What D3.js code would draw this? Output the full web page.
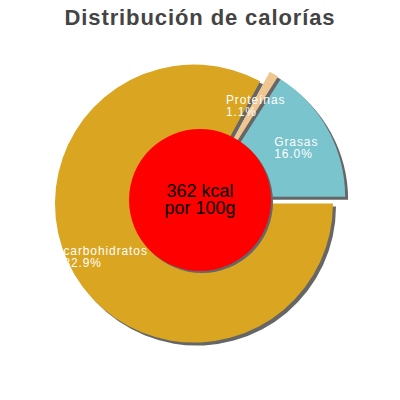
<!DOCTYPE html>
<html><head><meta charset="utf-8">
<script src="https://cdn.jsdelivr.net/npm/d3@7"></script>
<style>body{margin:0;background:#fff}svg{display:block}</style>
</head><body>
<script>
const title = "Distribución de calorías";
const categories = ["carbohidratos", "Proteínas", "Grasas"];
const values = [82.9, 1.1, 16.0];
const colors = ["#daa520", "#efc590", "#79c4cd"];
const centerLines = ["362 kcal", "por 100g"];

const W = 400, H = 400, cx = 200, cy = 200, R = 139, explode = 7, innerR = 71;
const svg = d3.select("body").append("svg").attr("width", W).attr("height", H);

svg.append("text").attr("x", W/2).attr("y", 25).attr("text-anchor", "middle")
  .attr("font-family", "Liberation Sans, Arial, sans-serif").attr("font-weight", "bold")
  .attr("font-size", 22).attr("letter-spacing", 0.9).attr("fill", "#444").text(title);

const data = categories.map((c, i) => ({name: c, value: values[i], color: colors[i]}));
const pie = d3.pie().sort(null).value(d => d.value).startAngle(Math.PI/2).endAngle(Math.PI/2 + 2*Math.PI);
const arcs = pie(data);
const arc = d3.arc().innerRadius(0).outerRadius(R);
const labelArc = d3.arc().innerRadius(0).outerRadius(R * 0.74 * 2);

const off = d => { const a = (d.startAngle + d.endAngle)/2; return [Math.sin(a)*explode, -Math.cos(a)*explode]; };

const g = svg.append("g").attr("transform", `translate(${cx},${cy})`);
// shadows
g.selectAll("path.sh").data(arcs).join("path").attr("class","sh")
  .attr("d", arc).attr("fill", "#666")
  .attr("transform", d => { const o = off(d); return `translate(${o[0]+3},${o[1]+3})`; });
g.selectAll("path.sl").data(arcs).join("path").attr("class","sl")
  .attr("d", arc).attr("fill", d => d.data.color)
  .attr("transform", d => { const o = off(d); return `translate(${o[0]},${o[1]})`; });

// labels
arcs.forEach(d => {
  const o = off(d);
  const c = labelArc.centroid(d);
  const t = g.append("text").attr("font-family", "Liberation Sans, Arial, sans-serif")
    .attr("font-size", 12).attr("letter-spacing", 0.9).attr("fill", "#fff");
  t.append("tspan").attr("x", 0).attr("dy", 0).text(d.data.name);
  t.append("tspan").attr("x", 0).attr("dy", 12).text(d3.format(".1f")(d.data.value) + "%");
  const w = t.node().getBBox().width;
  t.selectAll("tspan").attr("x", c[0] + o[0] - w/2);
  t.select("tspan").attr("y", c[1] + o[1] - 1);
});

// center circle
g.append("circle").attr("cx", 2).attr("cy", 2).attr("r", innerR).attr("fill", "#666");
g.append("circle").attr("cx", 0).attr("cy", 0).attr("r", innerR).attr("fill", "#ff0000");
const ct = g.append("text").attr("text-anchor", "middle").attr("font-family", "Liberation Sans, Arial, sans-serif")
  .attr("font-size", 18).attr("fill", "#000");
centerLines.forEach((l, i) => ct.append("tspan").attr("x", 0).attr("y", -3.5 + i*17.5).text(l));
</script>
</body></html>
